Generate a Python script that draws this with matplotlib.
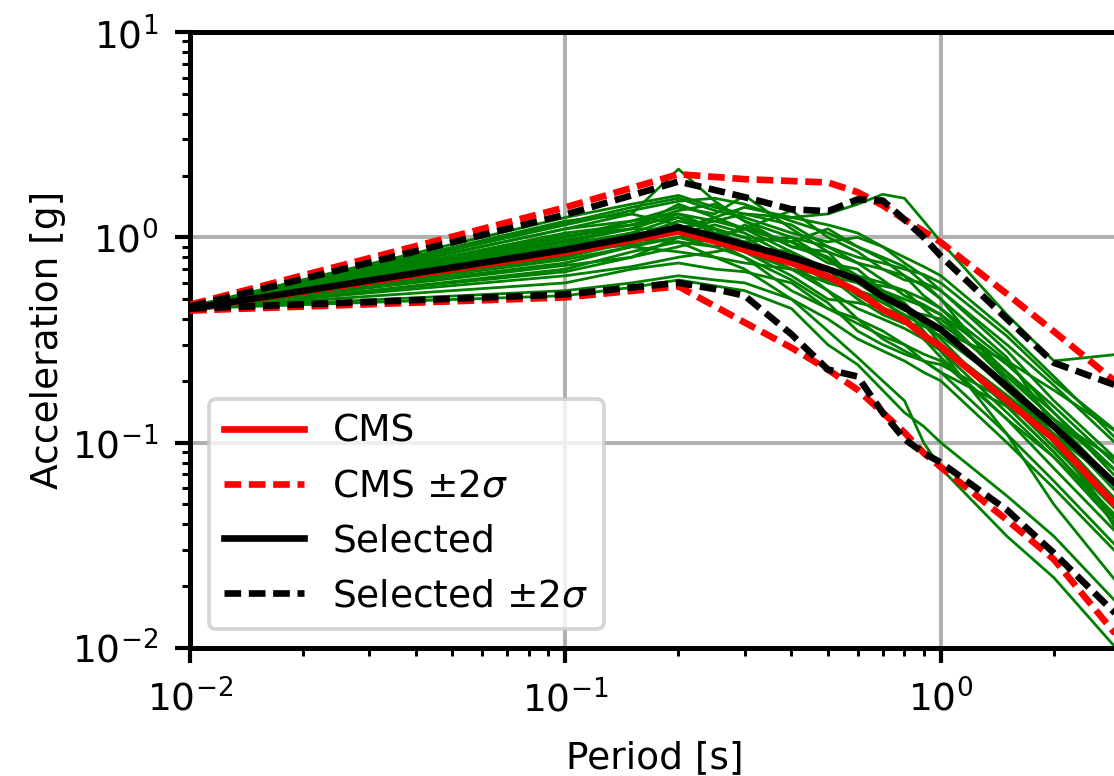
import matplotlib
matplotlib.use("Agg")
import matplotlib.pyplot as plt

# ---- data ----
cms_periods = [0.01, 0.1, 0.2, 0.3, 0.4, 0.5, 0.6, 0.7, 0.8, 0.9, 1.0, 1.5, 2.0, 3.0]
cms_mean = [0.45, 0.845, 1.07, 0.87, 0.75, 0.645, 0.545, 0.445, 0.394, 0.333, 0.294, 0.16, 0.104, 0.047]
cms_upper = [0.47, 1.40, 2.03, 1.92, 1.88, 1.85, 1.66, 1.43, 1.22, 1.07, 0.945, 0.53, 0.348, 0.19]
cms_lower = [0.44, 0.51, 0.577, 0.385, 0.29, 0.227, 0.181, 0.14, 0.112, 0.089, 0.076, 0.042, 0.027, 0.011]

sel_periods = [0.01, 0.1, 0.15, 0.2, 0.25, 0.3, 0.4, 0.5, 0.6, 0.7, 0.8, 0.9, 1.0, 1.5, 2.0, 3.0]
sel_mean = [0.45, 0.87, 1.0, 1.12, 1.01, 0.92, 0.80, 0.70, 0.624, 0.515, 0.456, 0.398, 0.356, 0.188, 0.12, 0.06]
sel_upper = [0.46, 1.29, 1.60, 1.87, 1.70, 1.57, 1.37, 1.34, 1.53, 1.51, 1.22, 1.0, 0.81, 0.40, 0.245, 0.187]
sel_lower = [0.45, 0.527, 0.57, 0.60, 0.56, 0.52, 0.337, 0.227, 0.21, 0.14, 0.104, 0.089, 0.08, 0.047, 0.029, 0.014]

gm01 = [0.46, 1.25, 1.45, 1.60, 1.40, 1.30, 1.25, 1.30, 1.45, 1.62, 1.55, 1.20, 0.95, 0.42, 0.25, 0.27]
gm02 = [0.45, 1.10, 1.30, 2.15, 1.50, 1.20, 1.00, 0.90, 0.80, 0.75, 0.70, 0.66, 0.60, 0.33, 0.20, 0.11]
gm03 = [0.45, 1.15, 1.35, 1.50, 1.55, 1.45, 1.20, 1.05, 0.90, 0.80, 0.72, 0.60, 0.50, 0.20, 0.10, 0.04]
gm04 = [0.46, 1.00, 1.20, 1.40, 1.30, 1.60, 1.10, 0.85, 0.75, 0.70, 0.62, 0.60, 0.55, 0.28, 0.16, 0.08]
gm05 = [0.45, 0.95, 1.10, 1.30, 1.20, 1.10, 1.35, 1.00, 0.85, 0.70, 0.65, 0.52, 0.45, 0.22, 0.14, 0.07]
gm06 = [0.45, 0.90, 1.05, 1.25, 1.10, 1.00, 0.95, 1.10, 0.90, 0.78, 0.65, 0.58, 0.50, 0.26, 0.12, 0.035]
gm07 = [0.45, 1.05, 1.15, 1.35, 1.45, 1.20, 0.90, 0.80, 0.60, 0.55, 0.50, 0.46, 0.42, 0.20, 0.12, 0.055]
gm08 = [0.44, 0.85, 1.00, 1.10, 1.00, 0.90, 0.85, 0.70, 0.65, 0.60, 0.55, 0.45, 0.38, 0.22, 0.13, 0.07]
gm09 = [0.45, 0.80, 0.95, 1.05, 1.15, 1.05, 0.80, 0.60, 0.55, 0.50, 0.40, 0.34, 0.30, 0.17, 0.11, 0.05]
gm10 = [0.45, 0.75, 0.90, 1.00, 0.95, 0.85, 0.70, 0.65, 0.50, 0.42, 0.38, 0.37, 0.35, 0.25, 0.18, 0.11]
gm11 = [0.45, 1.20, 1.30, 1.15, 1.00, 1.10, 0.95, 0.75, 0.70, 0.55, 0.45, 0.38, 0.32, 0.15, 0.09, 0.04]
gm12 = [0.44, 0.70, 0.85, 0.95, 0.90, 0.95, 0.75, 0.55, 0.45, 0.40, 0.36, 0.32, 0.28, 0.11, 0.05, 0.02]
gm13 = [0.45, 0.88, 1.00, 1.20, 1.10, 0.85, 0.65, 0.50, 0.48, 0.45, 0.42, 0.32, 0.26, 0.13, 0.085, 0.04]
gm14 = [0.45, 0.92, 1.05, 1.05, 0.95, 1.15, 0.90, 0.85, 0.60, 0.50, 0.44, 0.42, 0.40, 0.21, 0.13, 0.06]
gm15 = [0.45, 0.78, 0.90, 0.85, 0.80, 0.75, 0.70, 0.60, 0.55, 0.48, 0.42, 0.37, 0.33, 0.19, 0.11, 0.05]
gm16 = [0.45, 0.82, 0.95, 1.15, 0.95, 0.80, 0.55, 0.45, 0.40, 0.35, 0.30, 0.27, 0.25, 0.13, 0.075, 0.035]
gm17 = [0.45, 1.00, 1.15, 1.25, 1.05, 0.95, 1.00, 0.78, 0.62, 0.52, 0.46, 0.40, 0.36, 0.18, 0.11, 0.05]
gm18 = [0.45, 0.65, 0.72, 0.80, 0.85, 0.90, 0.80, 0.70, 0.52, 0.45, 0.40, 0.34, 0.30, 0.16, 0.095, 0.045]
gm19 = [0.45, 0.60, 0.70, 0.75, 0.70, 0.68, 0.60, 0.45, 0.38, 0.33, 0.30, 0.25, 0.22, 0.15, 0.11, 0.06]
gm20 = [0.45, 0.55, 0.60, 0.65, 0.62, 0.60, 0.50, 0.40, 0.32, 0.28, 0.25, 0.22, 0.20, 0.10, 0.06, 0.028]
gm21 = [0.45, 0.52, 0.57, 0.62, 0.58, 0.55, 0.45, 0.30, 0.24, 0.18, 0.14, 0.12, 0.10, 0.055, 0.035, 0.016]
gm22 = [0.45, 0.90, 0.98, 0.95, 0.80, 0.70, 0.50, 0.35, 0.26, 0.20, 0.16, 0.10, 0.075, 0.035, 0.022, 0.0095]
gm23 = [0.45, 1.10, 1.20, 1.30, 1.10, 0.90, 0.70, 0.55, 0.40, 0.32, 0.28, 0.25, 0.22, 0.11, 0.065, 0.03]
gm24 = [0.45, 0.97, 1.10, 1.45, 1.25, 1.10, 0.85, 0.65, 0.60, 0.58, 0.55, 0.50, 0.45, 0.25, 0.14, 0.065]
gm25 = [0.46, 1.18, 1.40, 1.55, 1.35, 1.25, 1.05, 0.95, 1.00, 0.90, 0.80, 0.72, 0.65, 0.35, 0.21, 0.10]
gm26 = [0.45, 0.73, 0.80, 0.90, 1.00, 1.10, 0.95, 0.80, 0.65, 0.55, 0.48, 0.38, 0.30, 0.15, 0.09, 0.042]
gm27 = [0.45, 0.85, 0.92, 1.00, 0.90, 0.80, 0.62, 0.48, 0.35, 0.30, 0.27, 0.25, 0.24, 0.16, 0.13, 0.08]
gm28 = [0.45, 1.02, 1.10, 1.10, 1.20, 1.30, 1.15, 0.90, 0.75, 0.62, 0.52, 0.47, 0.42, 0.24, 0.15, 0.075]
gm29 = [0.45, 0.68, 0.80, 1.00, 1.10, 1.00, 0.75, 0.62, 0.55, 0.50, 0.45, 0.35, 0.28, 0.14, 0.085, 0.038]
gm30 = [0.45, 0.95, 1.00, 1.10, 1.25, 1.40, 1.25, 1.15, 1.05, 0.90, 0.75, 0.65, 0.55, 0.30, 0.19, 0.095]

selected_records = [gm01, gm02, gm03, gm04, gm05, gm06, gm07, gm08, gm09, gm10,
                    gm11, gm12, gm13, gm14, gm15, gm16, gm17, gm18, gm19, gm20,
                    gm21, gm22, gm23, gm24, gm25, gm26, gm27, gm28, gm29, gm30]

# ---- figure ----
FS = 27
plt.rcParams['font.family'] = ['DejaVu Sans']
plt.rcParams['font.size'] = FS
plt.rcParams['mathtext.fontset'] = 'dejavusans'

fig = plt.figure(figsize=(11.14, 7.76), dpi=100)
ax = fig.add_axes([190 / 1114, 128 / 776, 930 / 1114, 616 / 776])

for rec in selected_records:
    ax.plot(sel_periods, rec, color='green', lw=2.0, zorder=2)

dash = (2.5, 1.15)
ax.plot(cms_periods, cms_mean, color='red', lw=4.8, label='CMS', zorder=3)
ax.plot(cms_periods, cms_upper, color='red', lw=4.8, ls='--', dashes=dash,
        label=r'CMS $\pm 2\sigma$', zorder=3)
ax.plot(cms_periods, cms_lower, color='red', lw=4.8, ls='--', dashes=dash, zorder=3)
ax.plot(sel_periods, sel_mean, color='black', lw=4.8, label='Selected', zorder=4)
ax.plot(sel_periods, sel_upper, color='black', lw=4.8, ls='--', dashes=dash,
        label=r'Selected $\pm 2\sigma$', zorder=4)
ax.plot(sel_periods, sel_lower, color='black', lw=4.8, ls='--', dashes=dash, zorder=4)

ax.set_xscale('log')
ax.set_yscale('log')
ax.set_xlim(0.01, 3.0)
ax.set_ylim(0.01, 10)

ax.grid(True, which='major', color='#b0b0b0', lw=2.9)
ax.set_axisbelow(True)

for s in ax.spines.values():
    s.set_linewidth(3.6)

ax.tick_params(which='major', length=11, width=3.0, labelsize=FS, pad=12)
ax.tick_params(which='minor', length=6, width=2.2)

ax.set_xlabel('Period [s]', fontsize=FS, labelpad=15)
ax.set_ylabel('Acceleration [g]', fontsize=FS, labelpad=4)

leg = ax.legend(loc='lower left', fontsize=FS, handlelength=2.15,
                handletextpad=0.75, framealpha=0.8, borderaxespad=0.5)
leg.get_frame().set_linewidth(2.8)

fig.savefig('out.png', dpi=100)
